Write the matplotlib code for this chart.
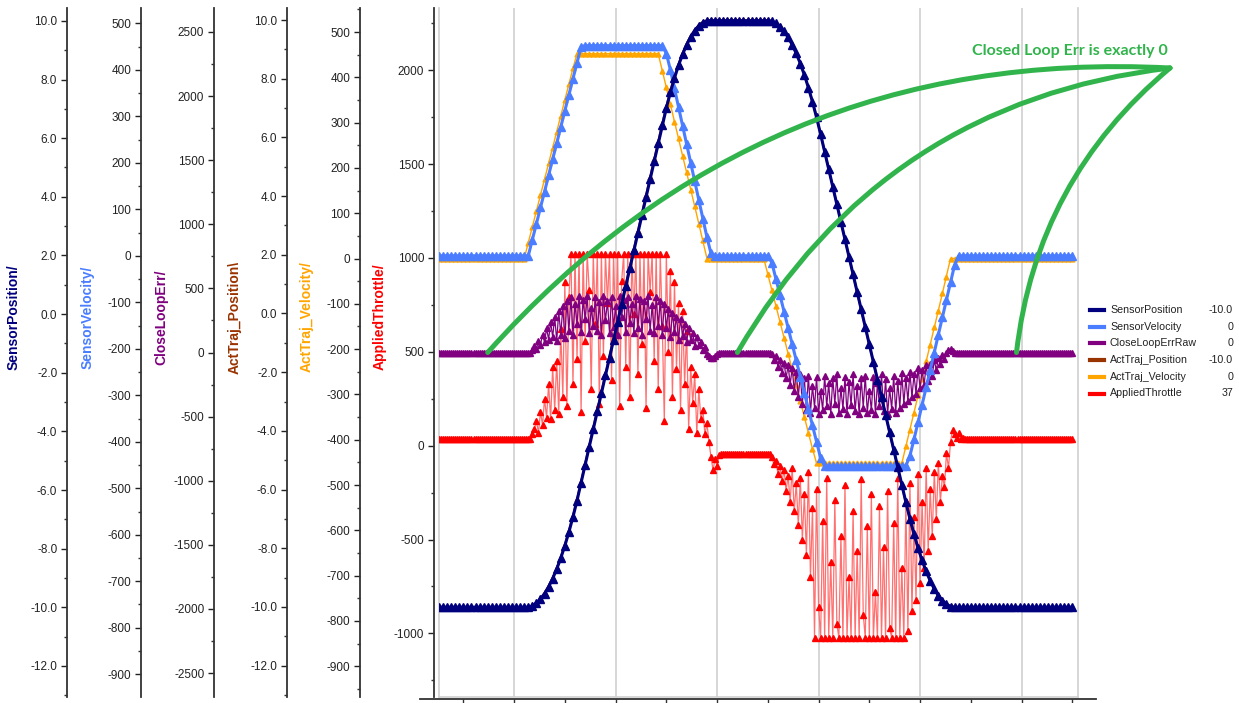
import numpy as np
import matplotlib
matplotlib.use('Agg')
import matplotlib.pyplot as plt
from matplotlib.ticker import MultipleLocator, FormatStrFormatter
from matplotlib.lines import Line2D

plt.rcParams['font.family'] = ['Liberation Sans', 'DejaVu Sans']
plt.rcParams['axes.unicode_minus'] = False

# sampling of the log (seconds); the noisy signals are logged twice as often
t0 = 0.26
dt = 0.04
dt_fast = 0.02

# --- data --------------------------------------------------------------
sensor_position = ([-10.0] * 23
    + [-9.953, -9.860, -9.719, -9.533, -9.300, -9.020, -8.693, -8.320, -7.899, -7.432,
       -6.918, -6.359, -5.752, -5.142, -4.533, -3.923, -3.314, -2.704, -2.094, -1.485,
       -0.875, -0.266, 0.344, 0.953, 1.563, 2.173, 2.782, 3.392, 4.001, 4.611,
       5.220, 5.830, 6.440, 7.026, 7.566, 8.051, 8.483, 8.860, 9.184, 9.454,
       9.670, 9.831, 9.939, 9.993, 10.0]
    + [10.0] * 14
    + [9.980, 9.914, 9.802, 9.643, 9.438, 9.187, 8.890, 8.546, 8.156, 7.720,
       7.237, 6.708, 6.133, 5.536, 4.938, 4.341, 3.743, 3.146, 2.548, 1.951,
       1.353, 0.756, 0.158, -0.439, -1.037, -1.634, -2.232, -2.829, -3.427, -4.024,
       -4.622, -5.219, -5.817, -6.414, -6.982, -7.504, -7.978, -8.401, -8.775, -9.099,
       -9.374, -9.599, -9.773, -9.898, -9.974, -10.0]
    + [-10.0] * 29)

act_traj_position = ([-10.0] * 23
    + [-9.950, -9.855, -9.712, -9.525, -9.290, -9.008, -8.680, -8.305, -7.882, -7.414,
       -6.898, -6.338, -5.730, -5.120, -4.510, -3.900, -3.290, -2.680, -2.070, -1.460,
       -0.850, -0.240, 0.370, 0.980, 1.590, 2.200, 2.810, 3.420, 4.030, 4.640,
       5.250, 5.860, 6.470, 7.050, 7.590, 8.070, 8.500, 8.875, 9.195, 9.462,
       9.675, 9.835, 9.942, 9.994, 10.0]
    + [10.0] * 14
    + [9.978, 9.910, 9.796, 9.635, 9.428, 9.175, 8.876, 8.530, 8.138, 7.700,
       7.215, 6.685, 6.110, 5.512, 4.914, 4.316, 3.718, 3.120, 2.522, 1.924,
       1.326, 0.728, 0.130, -0.468, -1.066, -1.664, -2.262, -2.860, -3.458, -4.056,
       -4.654, -5.252, -5.850, -6.448, -7.010, -7.528, -7.998, -8.418, -8.788, -9.108,
       -9.380, -9.603, -9.776, -9.900, -9.975, -10.0]
    + [-10.0] * 29)

sensor_velocity = ([0] * 23
    + [35, 69, 104, 138, 173, 208, 242, 277, 312, 346, 381, 415, 450]
    + [452] * 20
    + [435, 400, 360, 320, 280, 240, 200, 160, 120, 80, 40, 5]
    + [0] * 14
    + [-15, -50, -85, -120, -155, -190, -225, -260, -295, -330, -365, -400, -435]
    + [-452] * 21
    + [-430, -395, -358, -320, -283, -245, -208, -170, -132, -95, -57, -20]
    + [0] * 29)

act_traj_velocity = ([0] * 22
    + [35, 70, 105, 140, 175, 210, 245, 280, 315, 350, 385, 420, 452]
    + [452] * 20
    + [415, 378, 340, 302, 265, 227, 190, 152, 115, 77, 40, 0]
    + [0] * 14
    + [-35, -70, -105, -140, -175, -210, -245, -280, -315, -350, -385, -420, -452]
    + [-452] * 21
    + [-415, -378, -340, -302, -265, -227, -190, -152, -115, -77, -40, 0]
    + [0] * 30)

# fast-logged signals
close_loop_err = ([0] * 46
    + [20, 50, 30, 90, 60, 140, 80, 190, 100, 240, 120, 280, 90, 320, 140, 360,
       110, 400, 170, 430, 140, 380, 220, 440, 160, 410, 260, 440, 150, 350, 210, 430,
       170, 390, 140, 440, 250, 400, 150, 430, 200, 360, 140, 440, 280, 410, 160, 430,
       230, 380, 150, 440, 190, 420, 140, 400, 260, 440, 170, 370, 150, 430, 210, 400,
       140, 380, 190, 340, 120, 310, 160, 280, 100, 260, 130, 220, 80, 190, 100, 150,
       50, 120, 60, 80, 20, 40, -10, -30, -45, -40, -30, -10, 0, 0]
    + [0] * 24
    + [-10, -60, -30, -110, -60, -160, -80, -200, -100, -250, -120, -300, -150, -350,
       -170, -400, -200, -450, -180, -470, -260, -430, -190, -480, -300, -450, -180, -420,
       -240, -480, -200, -400, -170, -470, -280, -440, -190, -480, -230, -410, -170, -460,
       -260, -480, -200, -430, -180, -470, -300, -450, -190, -480, -240, -420, -170, -460,
       -210, -480, -280, -440, -180, -470, -220, -430, -160, -400, -200, -380, -150, -350,
       -170, -320, -120, -280, -140, -250, -100, -220, -90, -180, -60, -140, -40, -90,
       -20, -50, 0, 20, 25, 10, 0, 0, 0, 0, 0, 0]
    + [0] * 53)

applied_throttle = ([37] * 46
    + [60, 90, 130, 70, 180, 110, 250, 150, 330, 140, 420, 190, 450, 170, 620, 260,
       870, 210, 790, 1023, 330, 1023, 460, 1023, 180, 1023, 560, 1023, 830, 300, 1023, 650,
       1023, 220, 1023, 480, 1023, 760, 1023, 350, 1023, 590, 1023, 210, 880, 1023, 420, 1023,
       260, 1023, 700, 1023, 380, 1023, 540, 1023, 200, 1023, 820, 1023, 450, 1023, 300, 1023,
       640, 130, 1023, 500, 930, 260, 870, 410, 760, 190, 720, 330, 610, 90, 420, 230,
       380, 70, 300, 140, 190, 60, 120, 20, -60, -130, -70, -110, -50, -45]
    + [-45] * 24
    + [-60, -100, -80, -150, -110, -190, -130, -240, -160, -300, -120, -350, -200, -420,
       -170, -500, -260, -580, -140, -700, -330, -1023, -230, -860, -1023, -400, -1023, -170,
       -1023, -620, -1023, -290, -950, -1023, -480, -1023, -210, -1023, -700, -1023, -350, -1023,
       -560, -1023, -180, -900, -1023, -430, -1023, -260, -1023, -780, -1023, -320, -1023, -540,
       -1023, -240, -970, -1023, -410, -1023, -170, -1023, -650, -1023, -300, -990, -200, -880,
       -380, -820, -150, -730, -300, -650, -120, -560, -230, -480, -140, -390, -90, -300,
       -160, -220, -40, -120, 20, 84, 60, 40, 70, 35, 40, 37]
    + [37] * 53)

legend_names = ['SensorPosition', 'SensorVelocity', 'CloseLoopErrRaw',
                'ActTraj_Position', 'ActTraj_Velocity', 'AppliedThrottle']
legend_values = ['-10.0', '0', '0', '-10.0', '0', '37']
callout_times = [0.74, 3.2, 5.95]   # where CloseLoopErr sits at 0
callout_text = 'Closed Loop Err is exactly 0'

t = t0 + dt * np.arange(len(sensor_position))
t_fast = t0 + dt_fast * np.arange(len(applied_throttle))

NAVY = '#00007f'
BLUE = '#4a7dff'
PURPLE = '#800080'
BROWN = '#993300'
ORANGE = '#ffa500'
RED = '#ff0000'
GREEN = '#32b44c'

W, H = 1239, 703
fig = plt.figure(figsize=(W / 100, H / 100), dpi=100)

# plot area 439..1078 px wide, 8..697 px tall
ax = fig.add_axes([439 / W, 6 / H, 639 / W, 689 / H])
ax.set_xlim(0.26, 6.556)
ax.set_xticks([1, 2, 3, 4, 5, 6])
ax.tick_params(axis='x', length=0, labelbottom=False)
ax.set_yticks([])
ax.grid(axis='x', color='#d0d0d0', lw=1.2)
ax.spines['top'].set_visible(False)
for s in ['left', 'right', 'bottom']:
    ax.spines[s].set_color('#cfcfcf')
    ax.spines[s].set_linewidth(1.2)


def make_axis(label, color, ylim, major, minor, fmt, spine_px, label_px):
    tw = ax.twinx()
    tw.yaxis.tick_left()
    tw.yaxis.set_label_position('left')
    for s in ['top', 'right', 'bottom']:
        tw.spines[s].set_visible(False)
    tw.spines['left'].set_position(('outward', (439 - spine_px) * 0.72))
    tw.spines['left'].set_color('#333333')
    tw.spines['left'].set_linewidth(1.3)
    tw.set_ylim(*ylim)
    tw.yaxis.set_major_locator(MultipleLocator(major))
    tw.yaxis.set_minor_locator(MultipleLocator(minor))
    tw.yaxis.set_major_formatter(FormatStrFormatter(fmt))
    tw.tick_params(axis='y', which='major', direction='out', length=4, width=1,
                   colors='#222222', labelsize=8.5, pad=3)
    tw.tick_params(axis='y', which='minor', direction='out', length=2.5, width=1,
                   colors='#333333')
    tw.set_ylabel(label, color=color, fontsize=10, fontweight='bold',
                  va='center', ha='center')
    tw.yaxis.set_label_coords((label_px - 439) / 639, 0.5515)
    return tw


ax_thr = make_axis('AppliedThrottle/', RED, (-1339, 2332), 500, 250, '%d', 434, 380)
ax_atv = make_axis('ActTraj_Velocity/', ORANGE, (-968, 553), 100, 50, '%d', 360, 307)
ax_err = make_axis('CloseLoopErr/', PURPLE, (-2687, 2687), 500, 250, '%d', 214, 161)
ax_sv = make_axis('SensorVelocity/', BLUE, (-949, 533), 100, 50, '%d', 141, 88)
ax_atp = make_axis('ActTraj_Position\\', BROWN, (-13.07, 10.41), 2, 1, '%.1f', 287, 235)
ax_sp = make_axis('SensorPosition/', NAVY, (-13.06, 10.44), 2, 1, '%.1f', 67, 14)

ax_thr.plot(t_fast, applied_throttle, color='#ff7070', lw=0.9, marker='^', ms=4.5,
            mfc=RED, mec=RED)
ax_atv.plot(t, act_traj_velocity, color=ORANGE, lw=1, marker='^', ms=3.5)
ax_err.plot(t_fast, close_loop_err, color=PURPLE, lw=0.9, marker='^', ms=5)
ax_sv.plot(t, sensor_velocity, color=BLUE, lw=2.2, marker='^', ms=5.5)
ax_atp.plot(t, act_traj_position, color=BROWN, lw=1.5, marker='^', ms=3.5)
ax_sp.plot(t, sensor_position, color=NAVY, lw=2.2, marker='^', ms=5.5)

# x axis strip below the plot area
axx = fig.add_axes([420 / W, 4 / H, 676 / W, 1 / H])
axx.set_xlim(0.0728, 6.733)
axx.patch.set_visible(False)
axx.set_yticks([])
for s in ['top', 'left', 'right']:
    axx.spines[s].set_visible(False)
axx.spines['bottom'].set_color('#333333')
axx.spines['bottom'].set_linewidth(1.3)
axx.xaxis.set_major_locator(MultipleLocator(0.5))
axx.tick_params(axis='x', direction='out', length=3, width=1, colors='#333333',
                labelbottom=False)

# green callout
for tc, rad in zip(callout_times, [0.24, 0.25, 0.2]):
    ax_sp.annotate('', xy=(tc, 0), xycoords=ax_err.transData,
                   xytext=(1170, 635), textcoords='figure pixels',
                   arrowprops=dict(arrowstyle='-', connectionstyle=f'arc3,rad={rad}',
                                   color=GREEN, lw=3.6, shrinkA=0, shrinkB=0),
                   annotation_clip=False)
fig.text(1070 / W, 652 / H, callout_text, color=GREEN, fontsize=11.5,
         fontweight='bold', family=['Lato', 'DejaVu Sans'], ha='center', va='center')

# legend with current values
legend_colors = [NAVY, BLUE, PURPLE, BROWN, ORANGE, RED]
for k, (name, val, c) in enumerate(zip(legend_names, legend_values, legend_colors)):
    y = (H - (310 + 16.7 * k)) / H
    fig.add_artist(Line2D([1090 / W, 1104 / W], [y, y], color=c, lw=3,
                          transform=fig.transFigure))
    fig.text(1110 / W, y, name, fontsize=7.7, color='#222222', va='center')
    fig.text(1233 / W, y, val, fontsize=7.7, color='#222222', va='center', ha='right')

fig.savefig('out.png', dpi=100)
